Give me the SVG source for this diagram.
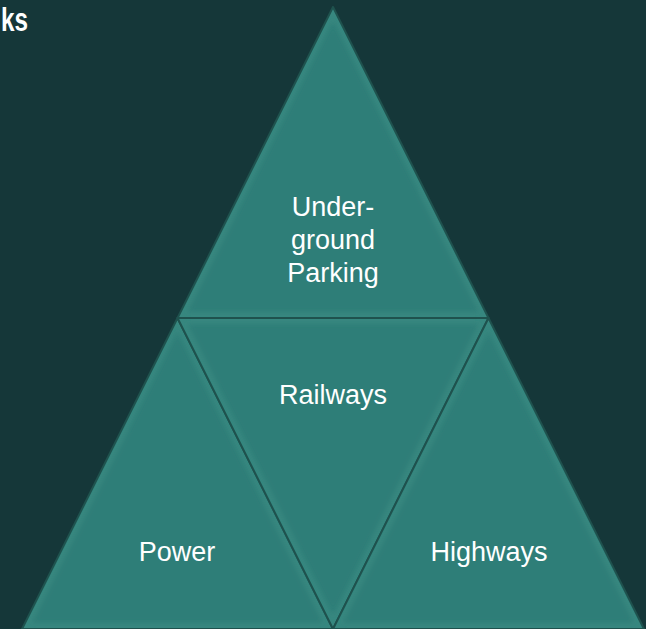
<svg xmlns="http://www.w3.org/2000/svg" width="646" height="629" viewBox="0 0 646 629">
  <style>
    .outer { fill: #37877f; stroke: #1f524e; stroke-width: 2; stroke-linejoin: round; }
    .inner { fill: #2f7e78; }
    .lbl { font-family: "Liberation Sans", Arial, sans-serif; font-size: 27px; fill: #ffffff; text-anchor: middle; }
    .title { font-family: "Liberation Sans", Arial, sans-serif; font-size: 33px; font-weight: bold; fill: #ffffff; }
  </style>
  <defs>
    <filter id="soft" x="-5%" y="-5%" width="110%" height="110%">
      <feGaussianBlur stdDeviation="2.5"/>
    </filter>
  </defs>
  <rect width="646" height="629" fill="#153739"/>
  <text class="title" x="1" y="31" textLength="27" lengthAdjust="spacingAndGlyphs">ks</text>

  <g id="node-top">
    <polygon class="outer" points="333,7 177.5,318 488.5,318"/>
    <polygon class="inner" filter="url(#soft)" points="333,20.4 187.2,312 478.8,312"/>
    <text class="lbl" x="333" y="216">Under-</text>
    <text class="lbl" x="333" y="249">ground</text>
    <text class="lbl" x="333" y="282">Parking</text>
  </g>

  <g id="node-left">
    <polygon class="outer" points="177.5,318 22,629 333,629"/>
    <polygon class="inner" filter="url(#soft)" points="177.5,331.4 31.7,623 323.3,623"/>
    <text class="lbl" x="177" y="561">Power</text>
  </g>

  <g id="node-middle">
    <polygon class="outer" points="177.5,318 488.5,318 333,629"/>
    <polygon class="inner" filter="url(#soft)" points="187.2,324 478.8,324 333,615.6"/>
    <text class="lbl" x="333" y="404">Railways</text>
  </g>

  <g id="node-right">
    <polygon class="outer" points="488.5,318 333,629 644,629"/>
    <polygon class="inner" filter="url(#soft)" points="488.5,331.4 342.7,623 634.3,623"/>
    <text class="lbl" x="489" y="561">Highways</text>
  </g>

  <g id="connectors"></g>
</svg>
